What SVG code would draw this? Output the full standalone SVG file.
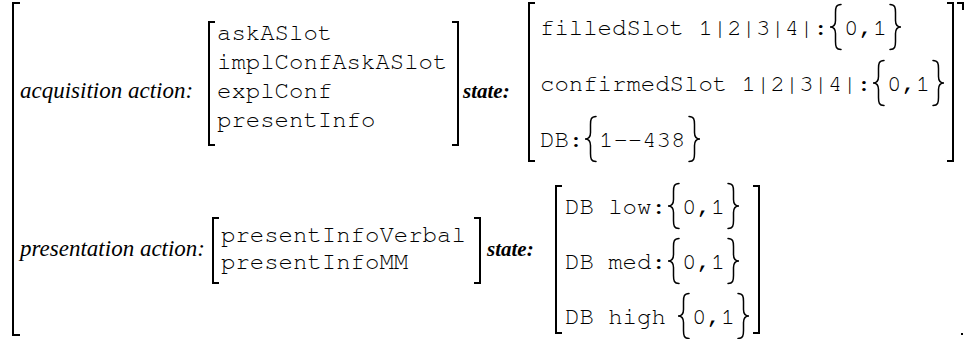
<svg xmlns="http://www.w3.org/2000/svg" width="965" height="339" viewBox="0 0 965 339">
<style>
.br{fill:none;stroke:#000;stroke-width:2}
.bc{fill:none;stroke:#000;stroke-width:1.5;stroke-linecap:round}
.lab{font-family:"Liberation Serif",serif;font-style:italic;font-size:23px;fill:#000}
.st{font-family:"Liberation Serif",serif;font-style:italic;font-weight:bold;font-size:21px;fill:#000}
.tt{font-family:"Nimbus Mono PS","Nimbus Mono L","FreeMono","Courier New",Courier,"Liberation Mono",monospace;font-size:24px;fill:#000}
</style>
<defs>
<path id="lb" class="bc" d="M11,0 C6,0 5.5,3 5.5,8 L5.5,16 C5.5,20 4,22.5 0,22.5 C4,22.5 5.5,25 5.5,29 L5.5,37 C5.5,42 6,45 11,45"/>
<path id="rb" class="bc" d="M0,0 C5,0 5.5,3 5.5,8 L5.5,16 C5.5,20 7,22.5 11,22.5 C7,22.5 5.5,25 5.5,29 L5.5,37 C5.5,42 5,45 0,45"/>
</defs>
<rect width="965" height="339" fill="#fff"/>
<g id="outer">
<path class="br" d="M20,3 H13 V335 H20"/>
<path class="br" d="M957,3 H963 V10"/>
<rect x="961" y="333" width="2" height="2" fill="#000"/>
</g>
<g id="acquisition">
<text class="lab" x="20" y="98">acquisition action:</text>
<path class="br" d="M215,22 H209 V145 H215"/>
<text class="tt" x="217" y="40">askASlot</text>
<text class="tt" x="217" y="69">implConfAskASlot</text>
<text class="tt" x="217" y="98">explConf</text>
<text class="tt" x="217" y="127">presentInfo</text>
<path class="br" d="M452,22 H458 V145 H452"/>
<text class="st" x="463" y="98">state:</text>
</g>
<g id="state1">
<path class="br" d="M535,3 H529 V161 H535"/>
<text class="tt" x="540" y="35">filledSlot 1|2|3|4|:</text>
<use href="#lb" x="830" y="4.5"/>
<text class="tt" x="844" y="35">0,1</text>
<use href="#rb" x="890" y="4.5"/>
<text class="tt" x="540" y="91">confirmedSlot 1|2|3|4|:</text>
<use href="#lb" x="873" y="60.5"/>
<text class="tt" x="887" y="91">0,1</text>
<use href="#rb" x="933" y="60.5"/>
<text class="tt" x="540" y="147">DB:</text>
<use href="#lb" x="585" y="116.5"/>
<text class="tt" x="599" y="147">1--438</text>
<use href="#rb" x="689" y="116.5"/>
<path class="br" d="M947,3 H953 V161 H947"/>
</g>
<g id="presentation">
<text class="lab" x="20" y="256">presentation action:</text>
<path class="br" d="M219,218 H213 V283 H219"/>
<text class="tt" x="221" y="242">presentInfoVerbal</text>
<text class="tt" x="221" y="269">presentInfoMM</text>
<path class="br" d="M474,218 H480 V283 H474"/>
<text class="st" x="487" y="256">state:</text>
</g>
<g id="state2">
<path class="br" d="M562,186 H556 V333 H562"/>
<text class="tt" x="565" y="214">DB low:</text>
<use href="#lb" x="668" y="183.5"/>
<text class="tt" x="682" y="214">0,1</text>
<use href="#rb" x="728" y="183.5"/>
<text class="tt" x="565" y="269">DB med:</text>
<use href="#lb" x="668" y="238.5"/>
<text class="tt" x="682" y="269">0,1</text>
<use href="#rb" x="728" y="238.5"/>
<text class="tt" x="565" y="324">DB high</text>
<use href="#lb" x="678" y="293.5"/>
<text class="tt" x="692" y="324">0,1</text>
<use href="#rb" x="738" y="293.5"/>
<path class="br" d="M753,186 H759 V333 H753"/>
</g>
</svg>
